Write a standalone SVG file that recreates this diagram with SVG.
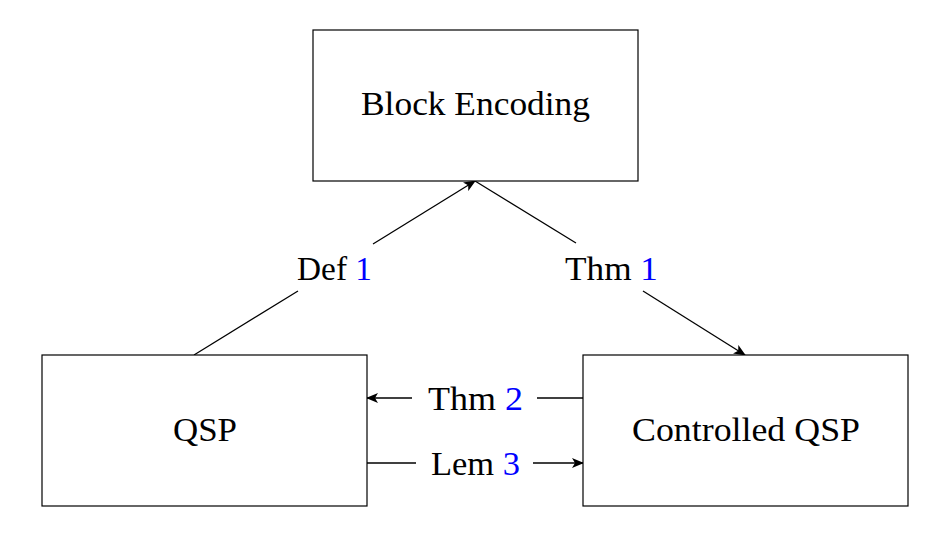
<svg xmlns="http://www.w3.org/2000/svg" width="944" height="538" viewBox="0 0 944 538">
<style>
.box{fill:#fff;stroke:#000;stroke-width:1.2}
.t{font-family:"Liberation Serif","DejaVu Serif",serif;font-size:34px;fill:#000}
.b{fill:#0000ff}
.e{stroke:#000;stroke-width:1.3;fill:none}
</style>
<defs>
<marker id="ah" viewBox="0 0 12 10" refX="11" refY="5" markerWidth="12" markerHeight="10" markerUnits="userSpaceOnUse" orient="auto">
<path d="M0,0 L12,5 L0,10 L3,5 Z" fill="#000"/>
</marker>
</defs>
<rect width="944" height="538" fill="#fff"/>
<g id="connectors">
<line class="e" x1="194" y1="355" x2="298" y2="291"/>
<line class="e" x1="373" y1="244" x2="475" y2="181" marker-end="url(#ah)"/>
<line class="e" x1="475" y1="181" x2="576" y2="243"/>
<line class="e" x1="643" y1="291" x2="745" y2="355" marker-end="url(#ah)"/>
<line class="e" x1="583" y1="398" x2="537" y2="398"/>
<line class="e" x1="412" y1="398" x2="367" y2="398" marker-end="url(#ah)"/>
<line class="e" x1="367" y1="463" x2="416" y2="463"/>
<line class="e" x1="533" y1="463" x2="583" y2="463" marker-end="url(#ah)"/>
<text class="t" x="297" y="280" textLength="75" lengthAdjust="spacingAndGlyphs">Def <tspan class="b">1</tspan></text>
<text class="t" x="565" y="280" textLength="93" lengthAdjust="spacingAndGlyphs">Thm <tspan class="b">1</tspan></text>
<text class="t" x="428" y="410" textLength="95" lengthAdjust="spacingAndGlyphs">Thm <tspan class="b">2</tspan></text>
<text class="t" x="431" y="475" textLength="89" lengthAdjust="spacingAndGlyphs">Lem <tspan class="b">3</tspan></text>
</g>
<g id="block-encoding">
<rect class="box" x="313" y="30" width="325" height="151"/>
<text class="t" x="361" y="115" textLength="229" lengthAdjust="spacingAndGlyphs">Block Encoding</text>
</g>
<g id="qsp">
<rect class="box" x="42" y="355" width="325" height="151"/>
<text class="t" x="173" y="441" textLength="64" lengthAdjust="spacingAndGlyphs">QSP</text>
</g>
<g id="controlled-qsp">
<rect class="box" x="583" y="355" width="325" height="151"/>
<text class="t" x="632" y="441" textLength="228" lengthAdjust="spacingAndGlyphs">Controlled QSP</text>
</g>
</svg>
